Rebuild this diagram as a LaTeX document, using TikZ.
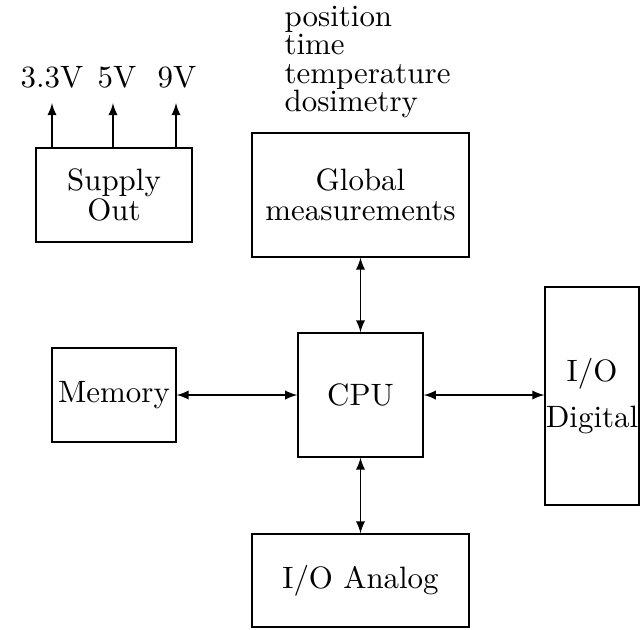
\documentclass[tikz,border=0pt]{standalone}
\usetikzlibrary{calc}
\usetikzlibrary{arrows.meta}
\tikzset{>=latex}
\tikzstyle{block}=[draw,thin,align=center,inner sep=2pt,
                   font=\fontsize{10.2}{9.8}\selectfont]
\tikzstyle{volt}=[anchor=south,inner xsep=0pt,inner ysep=4.6pt,font=\fontsize{10.2}{9.8}\selectfont]
\tikzstyle{link}=[<->,thin]

\begin{document}
\begin{tikzpicture}[x=0.33pt,y=-0.33pt]

    \useasboundingbox (0,0) rectangle (640,629); % page size

    \node[block,minimum width=51.5pt,minimum height=31pt] (supply) at (114,195) {Supply\\Out};
    \node[block,minimum width=71.6pt,minimum height=40.9pt] (global) at (360.5,195) {Global\\measurements};
    \node[block,minimum width=41.3pt,minimum height=40.9pt] (cpu) at (360.5,395) {CPU};
    \node[block,minimum width=40.9pt,minimum height=31pt] (memory) at (114,395) {Memory};
    \node[block,inner sep=0pt,minimum width=31pt,minimum height=71.9pt,
          font=\fontsize{10.2}{15}\selectfont] (digital) at (592,396) {I/O\\Digital};
    \node[block,minimum width=71.6pt,minimum height=30.7pt] (analog) at (360.5,580.5) {I/O Analog};

    % list of measured quantities
    \node[anchor=west,align=left,inner sep=0pt,font=\fontsize{10.2}{9.3}\selectfont] (quantities)
      at (284,62) {position\\time\\temperature\\dosimetry};

    % supply outputs
    \coordinate (p33) at (52,103);
    \coordinate (p5) at (113,103);
    \coordinate (p9) at (176,103);
    \node[volt] (v33) at (52,103) {3.3V};
    \node[volt] (v5) at (117,103) {5V};
    \node[volt] (v9) at (177,103) {9V};
    \foreach \p in {p33,p5,p9}{
      \draw[->,thin] (supply.north -| \p) -- (\p);
    }

    % buses to the cpu
    \draw[link] (memory.east) -- (cpu.west);
    \draw[link] (cpu.east) -- (cpu.east -| digital.west);
    \draw[link] (cpu.north) -- (global.south);
    \draw[link] (cpu.south) -- (analog.north);

\end{tikzpicture}
\end{document}
